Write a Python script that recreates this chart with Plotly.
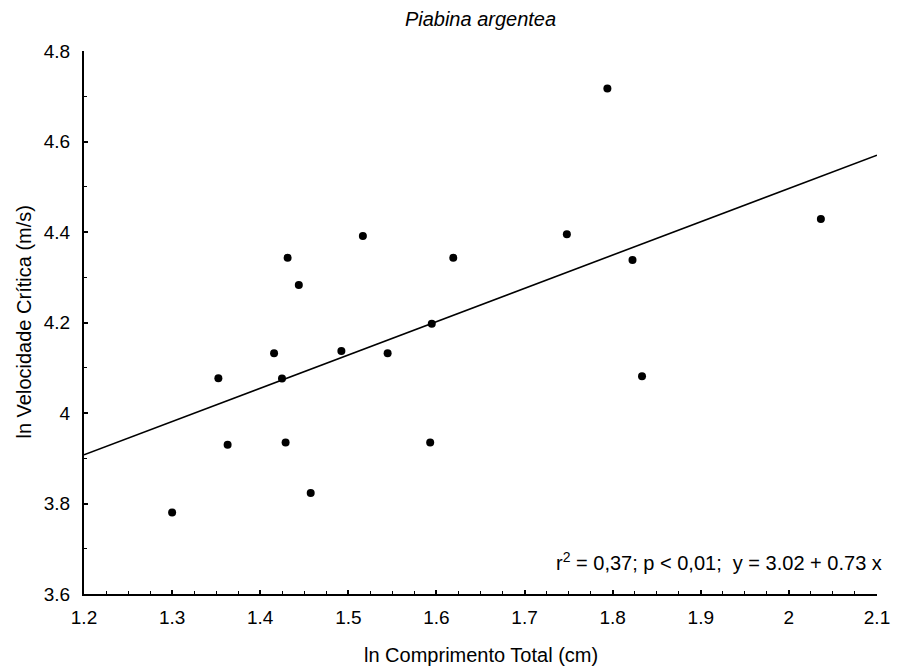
import plotly.graph_objects as go
import numpy as np

# Data
ln_comprimento = [1.300, 1.3525, 1.363, 1.4157, 1.4247, 1.4288, 1.4311, 1.4438, 1.4573,
                  1.4921, 1.5165, 1.5446, 1.5929, 1.5947, 1.6191, 1.748, 1.794, 1.8225,
                  1.8333, 2.0363]
ln_velocidade = [3.780, 4.077, 3.930, 4.132, 4.076, 3.935, 4.343, 4.283, 3.823,
                 4.137, 4.391, 4.132, 3.935, 4.197, 4.343, 4.395, 4.717, 4.338,
                 4.081, 4.429]

# Regression line (as drawn)
intercept = 3.025
slope = 0.7356
x_range = [1.2, 2.1]
y_range = [3.6, 4.8]

x_ticks = [1.2, 1.3, 1.4, 1.5, 1.6, 1.7, 1.8, 1.9, 2.0, 2.1]
x_ticklabels = ["1.2", "1.3", "1.4", "1.5", "1.6", "1.7", "1.8", "1.9", "2", "2.1"]
y_ticks = [3.6, 3.8, 4.0, 4.2, 4.4, 4.6, 4.8]
y_ticklabels = ["3.6", "3.8", "4", "4.2", "4.4", "4.6", "4.8"]

title_text = "<i>Piabina argentea</i>"
x_title = "ln Comprimento Total (cm)"
y_title = "ln Velocidade Crítica (m/s)"
stats_text = "r<sup>2</sup> = 0,37; p &lt; 0,01;  y = 3.02 + 0.73 x"

FONT = "Liberation Sans, Arial, sans-serif"

line_x = np.array(x_range)
line_y = intercept + slope * line_x

fig = go.Figure()
fig.add_trace(go.Scatter(x=line_x, y=line_y, mode="lines",
                         line=dict(color="black", width=1.6), showlegend=False,
                         cliponaxis=False))
fig.add_trace(go.Scatter(x=ln_comprimento, y=ln_velocidade, mode="markers",
                         marker=dict(color="black", size=8), showlegend=False))

fig.add_annotation(text=stats_text, xref="paper", yref="y", x=1.009, y=3.671,
                   xanchor="right", yanchor="middle", showarrow=False,
                   font=dict(family=FONT, size=20, color="black"))

# axis titles
fig.add_annotation(text=x_title, xref="paper", yref="paper", x=0.5, y=0,
                   xanchor="center", yanchor="middle", yshift=-61, showarrow=False,
                   font=dict(family=FONT, size=20, color="black"))
fig.add_annotation(text=y_title, xref="paper", yref="paper", x=0, y=0.5,
                   xanchor="center", yanchor="middle", xshift=-61, textangle=-90,
                   showarrow=False, font=dict(family=FONT, size=20, color="black"))

# The page body adds an 8px offset, so the figure is sized to fit the window.
fig.update_layout(
    width=894, height=661,
    margin=dict(l=76, r=17, t=43, b=75),
    paper_bgcolor="white", plot_bgcolor="white",
    font=dict(family=FONT, size=19, color="black"),
    title=dict(text=title_text, x=0.5, xref="paper", y=0.983, yref="container",
               xanchor="center", yanchor="middle",
               font=dict(family=FONT, size=20, color="black")),
    xaxis=dict(range=x_range, tickvals=x_ticks, ticktext=x_ticklabels,
               showgrid=False, zeroline=False, showline=True, linecolor="black",
               linewidth=2, ticks="inside", ticklen=4, tickwidth=1.5, tickcolor="black",
               minor=dict(dtick=0.025, ticks="inside", ticklen=3, tickwidth=1, tickcolor="black"),
               ticklabelstandoff=5, tickfont=dict(size=19)),
    yaxis=dict(range=y_range, tickvals=y_ticks, ticktext=y_ticklabels,
               showgrid=False, zeroline=False, showline=True, linecolor="black",
               linewidth=2, ticks="inside", ticklen=4, tickwidth=1.5, tickcolor="black",
               minor=dict(dtick=0.1, ticks="inside", ticklen=3, tickwidth=1, tickcolor="black"),
               ticklabelstandoff=8, tickfont=dict(size=19)),
)

fig.write_html("out.html")
